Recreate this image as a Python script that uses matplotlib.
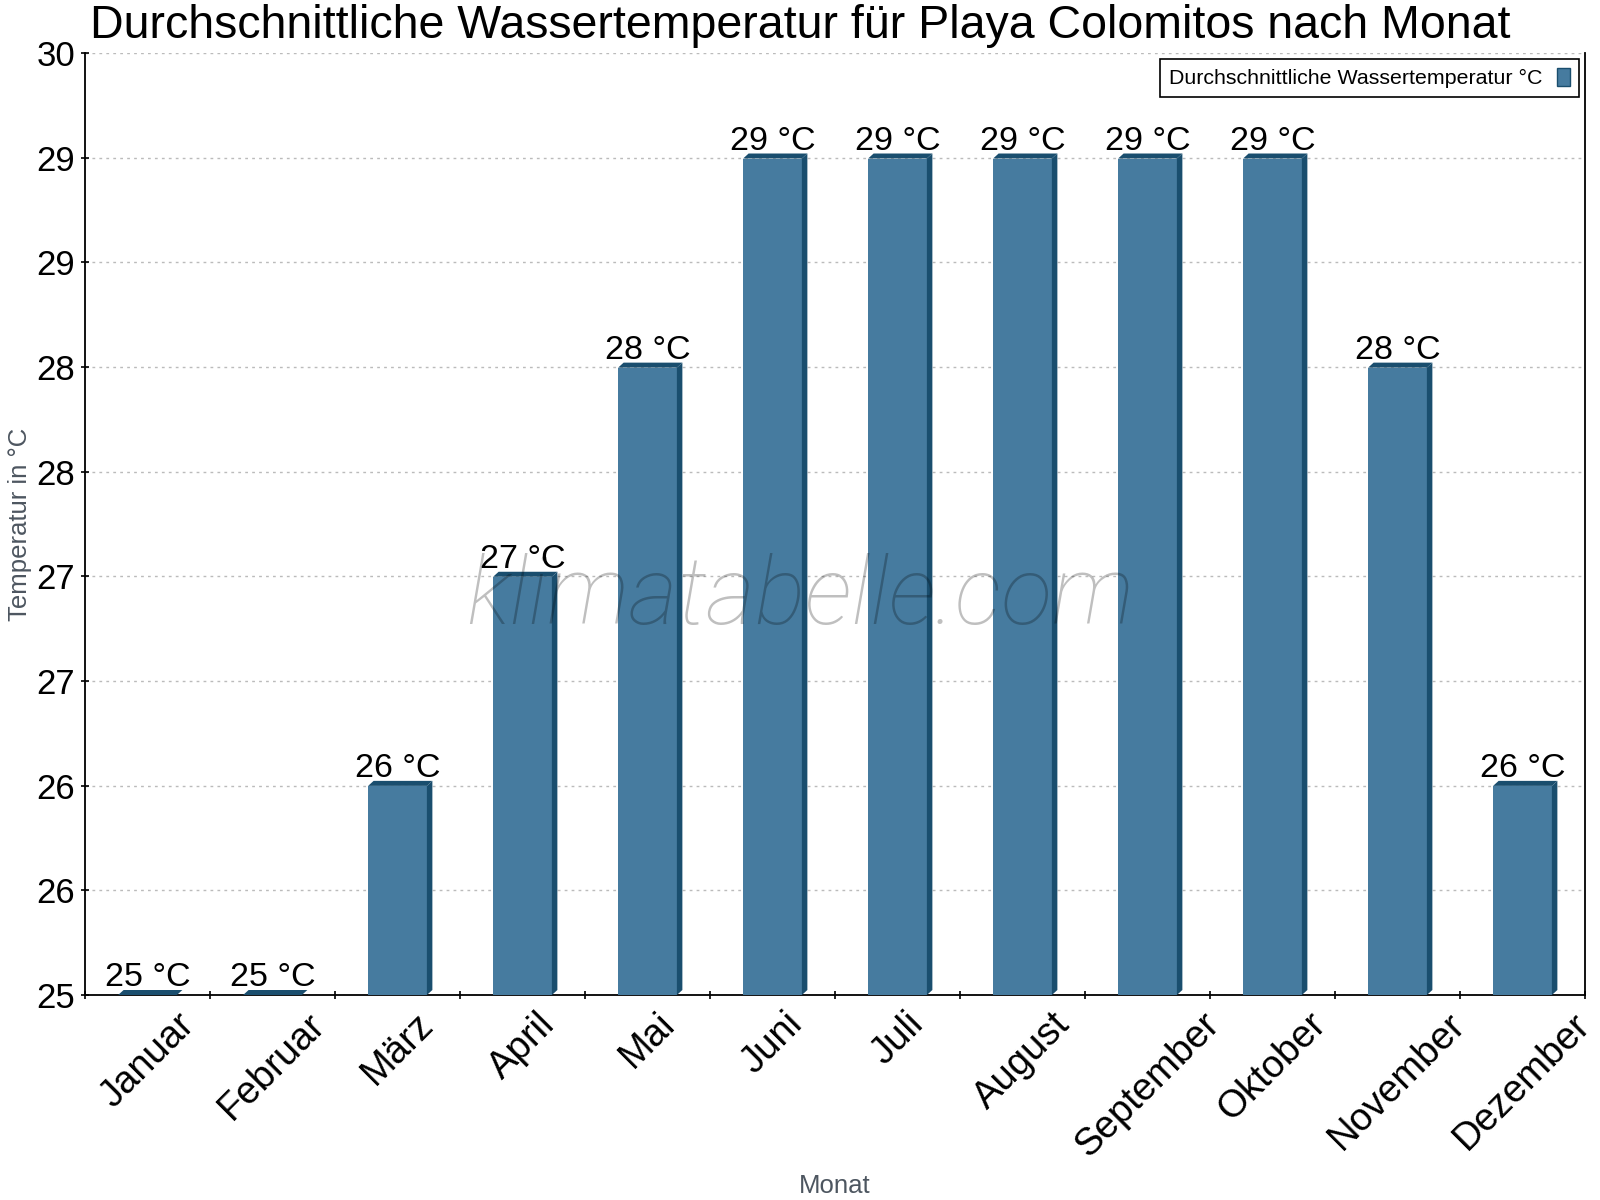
import numpy as np
import matplotlib
matplotlib.use("Agg")
import matplotlib.pyplot as plt
from matplotlib.patches import Polygon, Patch

# data
months = ["Januar", "Februar", "März", "April", "Mai", "Juni", "Juli",
          "August", "September", "Oktober", "November", "Dezember"]
water_temp = [25.0, 25.0, 26.11, 27.22, 28.33, 29.44, 29.44, 29.44, 29.44, 29.44, 28.33, 26.11]
y_min, y_max, n_ticks = 25, 30, 10

front = "#467b9f"
dark = "#1a4e6e"

plt.rcParams['font.family'] = ['Liberation Sans', 'DejaVu Sans']

fig = plt.figure(figsize=(16, 12), dpi=100)
ax = fig.add_axes([85/1600, 1 - 995/1200, 1500/1600, 942/1200])

x = np.arange(len(months))
w = 0.47
ax.set_xlim(-0.5, len(months) - 0.5)
ax.set_ylim(y_min, y_max)

vals = np.array(water_temp)
ax.bar(x, vals - y_min, bottom=y_min, width=w, color=front, zorder=3)

# fake 3d depth: ~5.5 px right, ~5 px up
dx = 5.5 / (1500 / len(months))
dy = 5.0 / (942 / (y_max - y_min))
for xi, v in zip(x, vals):
    x0, x1 = xi - w / 2, xi + w / 2
    top = Polygon([(x0, v), (x0 + dx, v + dy), (x1 + dx, v + dy), (x1, v)],
                  closed=True, facecolor=dark, edgecolor='none', zorder=3)
    side = Polygon([(x1, y_min), (x1 + dx, y_min + dy), (x1 + dx, v + dy), (x1, v)],
                   closed=True, facecolor=dark, edgecolor='none', zorder=3)
    ax.add_patch(top)
    ax.add_patch(side)
    ax.annotate(f"{round(v)} °C", (xi, v), xytext=(0, 9), textcoords='offset pixels',
                ha='center', va='baseline', fontsize=24.5, color='black', zorder=5)

# y axis
y_ticks = np.linspace(y_min, y_max, n_ticks)
ax.set_yticks(y_ticks)
ax.set_yticklabels([f"{round(t)}" for t in y_ticks])
ax.yaxis.grid(True, linestyle=(0, (2, 3)), color='#bbbbbb', linewidth=1)
ax.set_axisbelow(True)

# x axis: ticks at category edges, labels in the middle
ax.set_xticks(np.arange(-0.5, len(months), 1))
ax.set_xticklabels([])
ax.set_xticks(x, minor=True)
ax.set_xticklabels(months, minor=True, rotation=45, ha='center', va='top')
ax.tick_params(axis='x', which='minor', length=0, pad=8, labelsize=27.5)
ax.tick_params(axis='both', which='major', direction='inout', length=6, width=1.2,
               labelsize=25, pad=4)

for s in ['left', 'bottom', 'right']:
    ax.spines[s].set_linewidth(1.3)
ax.spines['top'].set_visible(False)

fig.text(20/1600, 1 - 524/1200, "Temperatur in °C", rotation=90, ha='center', va='center',
         fontsize=18.5, color='#4d5660')
fig.text(835/1600, 1 - 1193/1200, "Monat", ha='center', va='baseline',
         fontsize=18.5, color='#4d5660')

fig.text(90/1600, 1 - 38/1200, "Durchschnittliche Wassertemperatur für Playa Colomitos nach Monat",
         ha='left', va='baseline', fontsize=33.5, color='black')

leg = ax.legend(handles=[Patch(facecolor=front, edgecolor=dark, label="Durchschnittliche Wassertemperatur °C")],
                loc='upper right', markerfirst=False, fontsize=15.4, fancybox=False,
                framealpha=1, edgecolor='black', handlelength=0.6, handleheight=0.9,
                borderaxespad=0.3, borderpad=0.4, handletextpad=0.7)
leg.get_frame().set_linewidth(1.2)

# watermark
fig.text(800/1600, 1 - 598/1200, "klimatabelle.com", ha='center', va='center',
         fontsize=68, family='Roboto', fontweight=100, style='italic',
         color='black', alpha=0.25, zorder=10)

fig.savefig("out.png", dpi=100)
